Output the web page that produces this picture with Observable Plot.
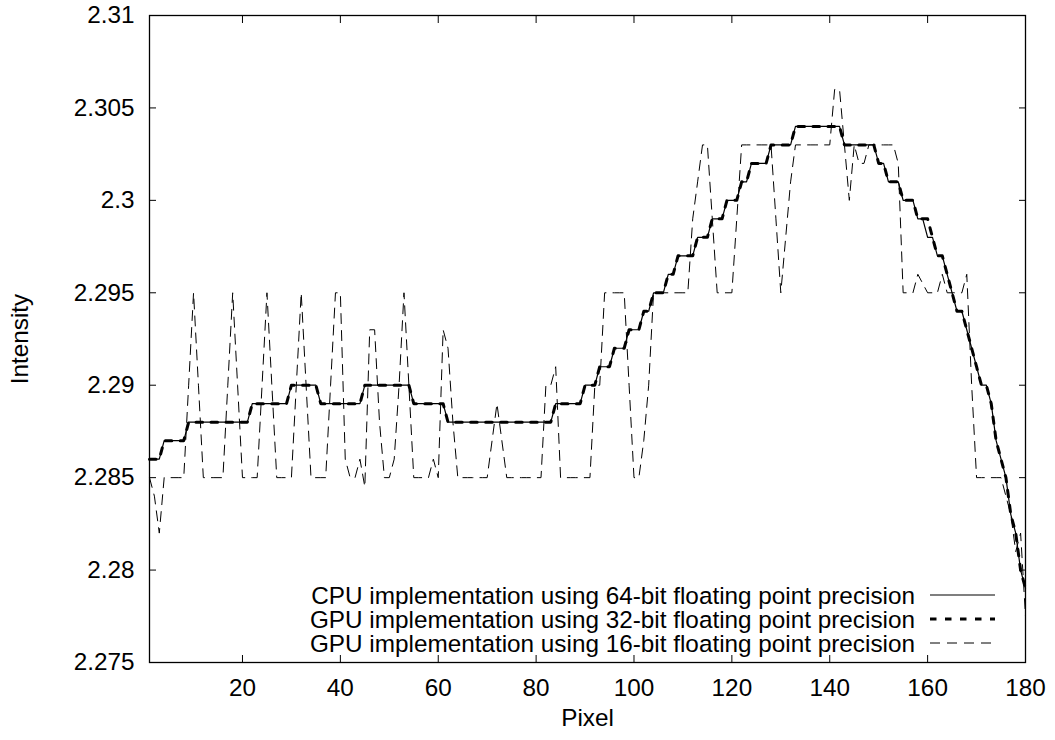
<!DOCTYPE html>
<html><head><meta charset="utf-8">
<script src="https://cdn.jsdelivr.net/npm/d3@7"></script>
<script src="https://cdn.jsdelivr.net/npm/@observablehq/plot@0.6"></script>
<style>
body{margin:0;background:#fff;}
#chart svg{display:block;}
</style></head><body><div id="chart"></div>
<script>
const seriesNames = [
  "CPU implementation using 64-bit floating point precision",
  "GPU implementation using 32-bit floating point precision",
  "GPU implementation using 16-bit floating point precision"
];
const xTicks = [20, 40, 60, 80, 100, 120, 140, 160, 180];
const yTicks = [2.275, 2.28, 2.285, 2.29, 2.295, 2.3, 2.305, 2.31];

// intensity per pixel 1..180
const cpu64 = [
  2.286,2.286,2.286,2.287,2.287,2.287,2.287,2.287,2.288,2.288,
  2.288,2.288,2.288,2.288,2.288,2.288,2.288,2.288,2.288,2.288,
  2.288,2.289,2.289,2.289,2.289,2.289,2.289,2.289,2.289,2.290,
  2.290,2.290,2.290,2.290,2.290,2.289,2.289,2.289,2.289,2.289,
  2.289,2.289,2.289,2.289,2.290,2.290,2.290,2.290,2.290,2.290,
  2.290,2.290,2.290,2.290,2.289,2.289,2.289,2.289,2.289,2.289,
  2.289,2.288,2.288,2.288,2.288,2.288,2.288,2.288,2.288,2.288,
  2.288,2.288,2.288,2.288,2.288,2.288,2.288,2.288,2.288,2.288,
  2.288,2.288,2.288,2.289,2.289,2.289,2.289,2.289,2.289,2.290,
  2.290,2.290,2.291,2.291,2.291,2.292,2.292,2.292,2.293,2.293,
  2.293,2.294,2.294,2.295,2.295,2.295,2.296,2.296,2.297,2.297,
  2.297,2.297,2.298,2.298,2.298,2.299,2.299,2.299,2.300,2.300,
  2.300,2.301,2.301,2.302,2.302,2.302,2.302,2.303,2.303,2.303,
  2.303,2.303,2.304,2.304,2.304,2.304,2.304,2.304,2.304,2.304,
  2.304,2.304,2.303,2.303,2.303,2.303,2.303,2.303,2.303,2.302,
  2.302,2.301,2.301,2.301,2.300,2.300,2.300,2.299,2.299,2.298,
  2.298,2.297,2.297,2.296,2.295,2.294,2.294,2.293,2.292,2.291,
  2.290,2.290,2.289,2.287,2.286,2.285,2.283,2.282,2.280,2.279
];
const gpu32 = [
  2.286,2.286,2.286,2.287,2.287,2.287,2.287,2.287,2.288,2.288,
  2.288,2.288,2.288,2.288,2.288,2.288,2.288,2.288,2.288,2.288,
  2.288,2.289,2.289,2.289,2.289,2.289,2.289,2.289,2.289,2.290,
  2.290,2.290,2.290,2.290,2.290,2.289,2.289,2.289,2.289,2.289,
  2.289,2.289,2.289,2.289,2.290,2.290,2.290,2.290,2.290,2.290,
  2.290,2.290,2.290,2.290,2.289,2.289,2.289,2.289,2.289,2.289,
  2.289,2.288,2.288,2.288,2.288,2.288,2.288,2.288,2.288,2.288,
  2.288,2.288,2.288,2.288,2.288,2.288,2.288,2.288,2.288,2.288,
  2.288,2.288,2.288,2.289,2.289,2.289,2.289,2.289,2.289,2.290,
  2.290,2.290,2.291,2.291,2.291,2.292,2.292,2.292,2.293,2.293,
  2.293,2.294,2.294,2.295,2.295,2.295,2.296,2.296,2.297,2.297,
  2.297,2.297,2.298,2.298,2.298,2.299,2.299,2.299,2.300,2.300,
  2.300,2.301,2.301,2.302,2.302,2.302,2.302,2.303,2.303,2.303,
  2.303,2.303,2.304,2.304,2.304,2.304,2.304,2.304,2.304,2.304,
  2.304,2.304,2.303,2.303,2.303,2.303,2.303,2.303,2.303,2.302,
  2.302,2.301,2.301,2.301,2.300,2.300,2.300,2.299,2.299,2.299,
  2.298,2.297,2.297,2.296,2.295,2.294,2.294,2.293,2.292,2.291,
  2.290,2.290,2.289,2.287,2.286,2.285,2.283,2.282,2.280,2.279
];
const gpu16 = [
  2.285,2.284,2.282,2.285,2.285,2.285,2.285,2.285,2.290,2.295,
  2.290,2.285,2.285,2.285,2.285,2.285,2.290,2.295,2.290,2.285,
  2.285,2.285,2.285,2.290,2.295,2.290,2.285,2.285,2.285,2.285,
  2.290,2.295,2.290,2.285,2.285,2.285,2.285,2.290,2.295,2.295,
  2.286,2.285,2.285,2.286,2.2845,2.293,2.293,2.288,2.285,2.285,
  2.286,2.290,2.295,2.290,2.285,2.285,2.285,2.285,2.286,2.285,
  2.293,2.292,2.288,2.285,2.285,2.285,2.285,2.285,2.285,2.285,
  2.287,2.289,2.287,2.285,2.285,2.285,2.285,2.285,2.285,2.285,
  2.285,2.290,2.290,2.291,2.285,2.285,2.285,2.285,2.285,2.285,
  2.285,2.290,2.290,2.295,2.295,2.295,2.295,2.295,2.290,2.285,
  2.285,2.287,2.290,2.295,2.295,2.295,2.295,2.295,2.295,2.295,
  2.295,2.299,2.301,2.303,2.303,2.299,2.295,2.295,2.295,2.295,
  2.299,2.303,2.303,2.303,2.303,2.303,2.303,2.303,2.299,2.295,
  2.298,2.301,2.303,2.303,2.303,2.303,2.303,2.303,2.303,2.303,
  2.306,2.306,2.303,2.300,2.303,2.302,2.302,2.303,2.303,2.303,
  2.303,2.303,2.303,2.302,2.295,2.295,2.295,2.296,2.2955,2.295,
  2.295,2.295,2.296,2.295,2.295,2.295,2.295,2.296,2.290,2.285,
  2.285,2.285,2.285,2.285,2.285,2.284,2.283,2.281,2.282,2.2775
];

const toRows = (arr) => arr.map((v, i) => ({pixel: i + 1, value: v}));
const font = "'Liberation Sans', Arial, Helvetica, sans-serif";
const fs = 24.3;
const fmt = d => String(+d.toFixed(3));

const chart = Plot.plot({
  width: 1055,
  height: 740,
  marginLeft: 149,
  marginRight: 30,
  marginTop: 15,
  marginBottom: 78,
  style: {fontFamily: font, fontSize: fs + "px", color: "black", background: "white"},
  x: {domain: [1, 180]},
  y: {domain: [2.275, 2.31]},
  marks: [
    Plot.line(toRows(cpu64), {x: "pixel", y: "value", stroke: "black", strokeWidth: 1.2}),
    Plot.line(toRows(gpu32), {x: "pixel", y: "value", stroke: "black", strokeWidth: 3, strokeDasharray: "6.5,8.5"}),
    Plot.line(toRows(gpu16), {x: "pixel", y: "value", stroke: "black", strokeWidth: 1, strokeDasharray: "10,7"}),
    Plot.axisX(xTicks, {anchor: "bottom", tickSize: -7, tickPadding: 23, label: null, tickFormat: fmt}),
    Plot.axisX(xTicks, {anchor: "top", tickSize: -7, label: null, tickFormat: () => ""}),
    Plot.axisY(yTicks, {anchor: "left", tickSize: -7, tickPadding: 22, label: null, tickFormat: fmt}),
    Plot.axisY(yTicks, {anchor: "right", tickSize: -7, label: null, tickFormat: () => ""}),
    Plot.text(["Intensity"], {frameAnchor: "left", dx: -129, rotate: -90, textAnchor: "middle", lineAnchor: "middle", fontSize: fs}),
    Plot.text(["Pixel"], {frameAnchor: "bottom", dy: 56, textAnchor: "middle", lineAnchor: "middle", fontSize: fs}),
    Plot.frame({stroke: "black", strokeWidth: 1.3})
  ]
});

// legend inside the plot area (bottom right)
const svg = d3.select(chart);
const dashes = [null, "6.5,8.5", "10,7"];
const widths = [1.2, 3, 1];
const lg = svg.append("g").attr("font-family", font).attr("font-size", fs);
seriesNames.forEach((name, i) => {
  const y = 595 + i * 24;
  lg.append("text").attr("x", 915).attr("y", y).attr("dy", "0.35em")
    .attr("text-anchor", "end").attr("fill", "black").text(name);
  lg.append("line").attr("x1", 930).attr("x2", 995).attr("y1", y).attr("y2", y)
    .attr("stroke", "black").attr("stroke-width", widths[i])
    .attr("stroke-dasharray", dashes[i]);
});

document.getElementById("chart").appendChild(chart);
</script></body></html>
